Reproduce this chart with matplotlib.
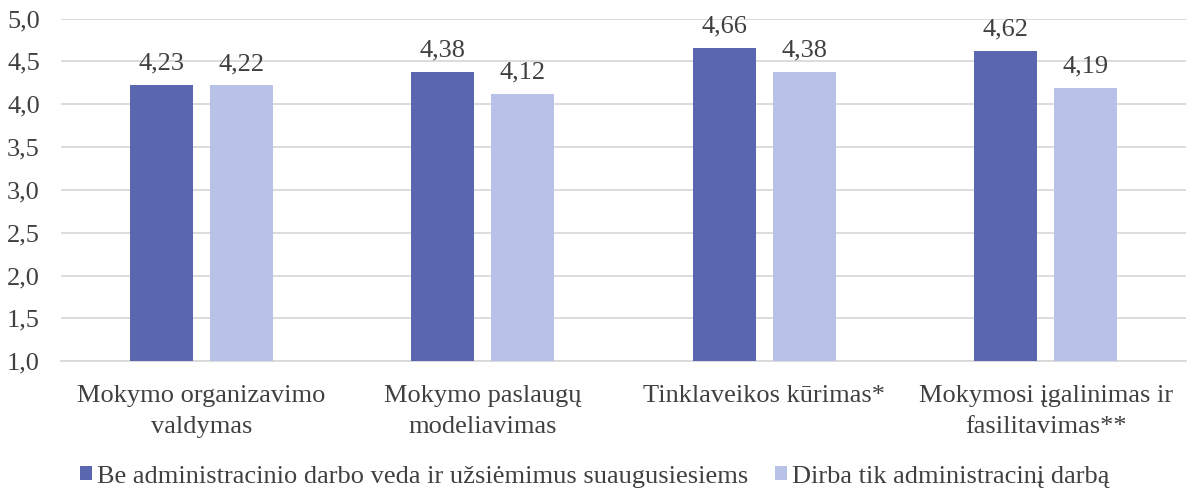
import matplotlib.pyplot as plt
import numpy as np

plt.rcParams['font.family'] = ['Liberation Serif', 'DejaVu Serif']

categories = ['Mokymo organizavimo\nvaldymas', 'Mokymo paslaugų\nmodeliavimas',
              'Tinklaveikos kūrimas*', 'Mokymosi įgalinimas ir\nfasilitavimas**']
series_names = ['Be administracinio darbo veda ir užsiėmimus suaugusiesiems',
                'Dirba tik administracinį darbą']
teaching = [4.23, 4.38, 4.66, 4.62]
admin_only = [4.22, 4.12, 4.38, 4.19]

colors = ['#5A67B0', '#B8C1E7']
text_color = '#404040'
fs = 19

fig = plt.figure(figsize=(11.9, 4.9), dpi=100)
ax = fig.add_axes([0.051, 0.263, 0.946, 0.699])

x = np.arange(len(categories))
w = 0.223
off = 0.142
bars1 = ax.bar(x - off, teaching, w, color=colors[0], label=series_names[0], zorder=3)
bars2 = ax.bar(x + off, admin_only, w, color=colors[1], label=series_names[1], zorder=3)

for bars in (bars1, bars2):
    for b in bars:
        h = b.get_height()
        ax.text(b.get_x() + b.get_width() / 2, h + 0.12, f'{h:.2f}'.replace('.', ','),
                ha='center', va='bottom', fontsize=fs, color=text_color)

ax.set_ylim(1.0, 5.0)
ax.set_xlim(-0.5, len(categories) - 0.5)
yt = np.arange(1.0, 5.01, 0.5)
ax.set_yticks(yt)
ax.set_yticklabels([f'{v:.1f}'.replace('.', ',') for v in yt], fontsize=fs, color=text_color)
ax.set_xticks(x)
ax.set_xticklabels(categories, fontsize=fs, color=text_color, linespacing=1.55)
ax.tick_params(axis='x', length=0, pad=17)
ax.tick_params(axis='y', length=0, pad=15)
ax.yaxis.grid(True, color='#D9D9D9', linewidth=1.3, zorder=0)
for s in ['top', 'right', 'left']:
    ax.spines[s].set_visible(False)
ax.spines['bottom'].set_color('#D9D9D9')
ax.spines['bottom'].set_linewidth(1.3)

fig.legend(handles=[bars1, bars2], labels=series_names, loc='center', bbox_to_anchor=(0.5, 0.027),
           ncol=2, frameon=False, fontsize=fs, handlelength=0.45, handleheight=0.45,
           handletextpad=0.2, columnspacing=1.0, labelcolor=text_color)

fig.savefig('out.png', dpi=100)
